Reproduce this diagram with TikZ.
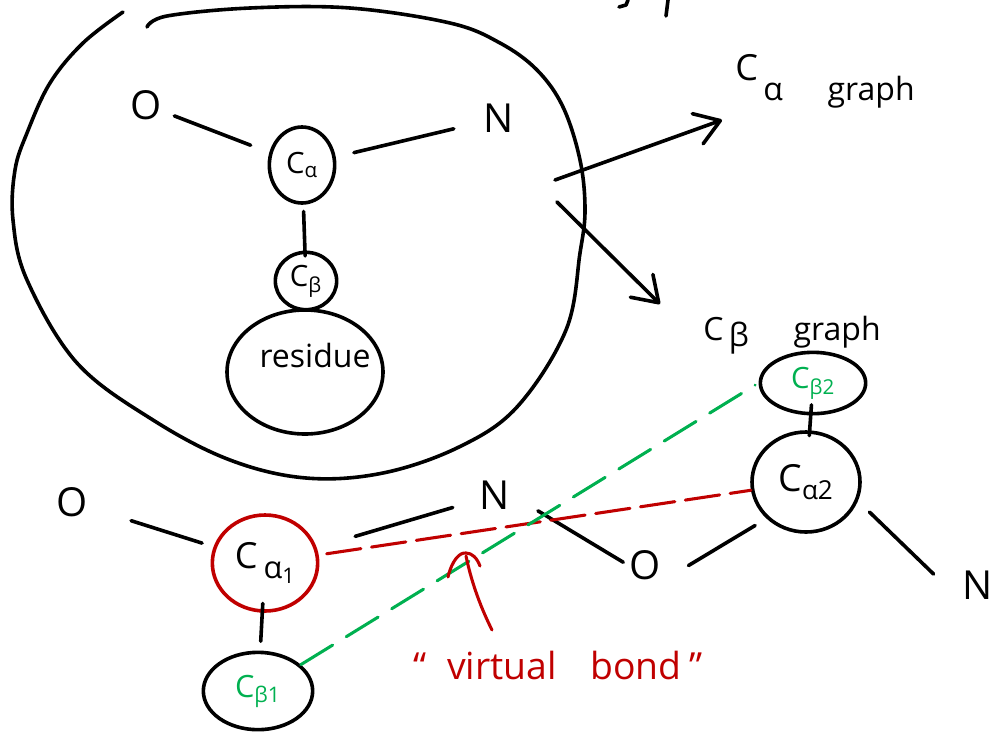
\documentclass[tikz,border=0pt]{standalone}
\usepackage{fontspec}
\setmainfont{Open Sans}
\usetikzlibrary{shapes.geometric,arrows.meta}
\definecolor{bondred}{RGB}{192,0,0}
\definecolor{bondgreen}{RGB}{0,176,80}

\tikzset{
  ink/.style={line width=2.7pt, line cap=round, line join=round},
  atom/.style={inner sep=1pt, font=\fontsize{30}{30}\selectfont},
  carbon/.style={ellipse, draw, ink, inner sep=0pt, font=\fontsize{22}{22}\selectfont},
  word/.style={inner sep=0pt, font=\fontsize{24}{24}\selectfont},
  virtual/.style={line width=2.3pt, line cap=round},
  graphto/.style={ink, -{Straight Barb[length=18pt,width=24pt,round]}},
  callout/.style={line width=2.3pt, line cap=round, bondred},
}

\begin{document}
\begin{tikzpicture}[x=0.75pt,y=-0.75pt]
    \useasboundingbox (0,0) rectangle (1005,740);

    \draw[ink] (628,0) -- (626,5) -- (619,7);
    \draw[ink] (668,0) -- (666,16);

    \draw[ink] plot[smooth, tension=0.6] coordinates {(147,27) (167,16) (250,8) (350,8) (450,23) (500,43) (537,70) (563,107) (580,160) (585,210) (580,253) (566,330) (517,407) (459,447) (383,473) (306,478) (230,460) (153,420) (77,363) (27,280) (13,220) (15,170) (27,133) (50,83) (83,43) (123,12)};

    \node[atom] (o) at (146,105) {O};
    \node[atom] (n) at (499,118) {N};
    \node[carbon, minimum width=49pt, minimum height=57pt] (ca) at (302,165) {C\textsubscript{α}};
    \node[carbon, minimum width=46pt, minimum height=43pt] (cb) at (306,281) {C\textsubscript{β}};
    \node[carbon, minimum width=117pt, minimum height=93pt] (res) at (305,372) {};
    \node[word] (restext) at (315,355) {residue};

    \draw[ink, shorten <=9pt, shorten >=15pt] (o) to (ca);
    \draw[ink, shorten <=14pt, shorten >=22pt] (ca) to (n);
    \draw[ink, shorten <=5pt, shorten >=-4pt] (ca) to (cb);

    \coordinate (out1) at (555,180);
    \coordinate (tip1) at (722,120);
    \coordinate (out2) at (557,202);
    \coordinate (tip2) at (660,304);
    \draw[graphto] (out1) to (tip1);
    \draw[graphto] (out2) to (tip2);

    \node[word, anchor=base west] (cagraph) at (735,100) {\raisebox{0.6em}{\fontsize{27}{27}\selectfont C}\,α\hspace{1.4em}graph};
    \node[word, anchor=base west] (cbgraph) at (703,340) {C\,\raisebox{-0.2em}{β}\hspace{1.4em}graph};

    \node[atom] (o1) at (72,502) {O};
    \node[atom] (n1) at (495,495) {N};
    \node[atom] (o2) at (645,565) {O};
    \node[atom] (n2) at (978,585) {N};

    \node[carbon, draw=bondred, minimum width=79pt, minimum height=72pt, font=\fontsize{27}{27}\selectfont] (ca1) at (265,563) {C\,\raisebox{-0.3em}{\fontsize{23}{23}\selectfont α\textsubscript{1}}};
    \node[carbon, minimum width=82pt, minimum height=58pt, text=bondgreen, font=\fontsize{23}{23}\selectfont] (cb1) at (258,691) {C\textsubscript{β1}};
    \node[carbon, minimum width=81pt, minimum height=75pt, font=\fontsize{28}{28}\selectfont] (ca2) at (806,482) {C\textsubscript{α2}};
    \node[carbon, minimum width=79pt, minimum height=46pt, text=bondgreen, font=\fontsize{22}{22}\selectfont] (cb2) at (813,383) {C\textsubscript{β2}};

    \draw[ink, shorten <=33pt, shorten >=9pt] (o1) to (ca1);
    \draw[ink, shorten <=30pt, shorten >=20pt] (ca1) to (n1);
    \draw[ink, shorten <=23pt, shorten >=4pt] (n1.east) to (o2.west);
    \draw[ink, shorten <=10pt, shorten >=23pt] (ca2.south west) to (o2.south east);
    \draw[ink, shorten <=12pt, shorten >=29pt] (ca2.-20) to (n2.south west);
    \draw[ink, shorten <=-7pt, shorten >=7pt] (ca1) to (cb1);
    \draw[ink, shorten <=-8pt, shorten >=-4pt] (cb2) to (ca2);

    \draw[virtual, bondred, dash pattern=on 26pt off 8pt, shorten <=6pt] (ca1) to (ca2);
    \draw[virtual, bondgreen, dash pattern=on 28pt off 12pt, shorten >=3pt] (cb1) to (cb2.west);

    \draw[callout] (448,577) .. controls (452,560) and (460,552) .. (466,553) .. controls (472,553) and (477,558) .. (480,566);
    \draw[callout] (466,556) .. controls (472,585) and (482,610) .. (492,630);
    \node[word, text=bondred, font=\fontsize{28}{28}\selectfont] (vbond) at (558,665) {“\hspace{0.55em}virtual\hspace{0.9em}bond\hspace{0.2em}”};
\end{tikzpicture}
\end{document}
